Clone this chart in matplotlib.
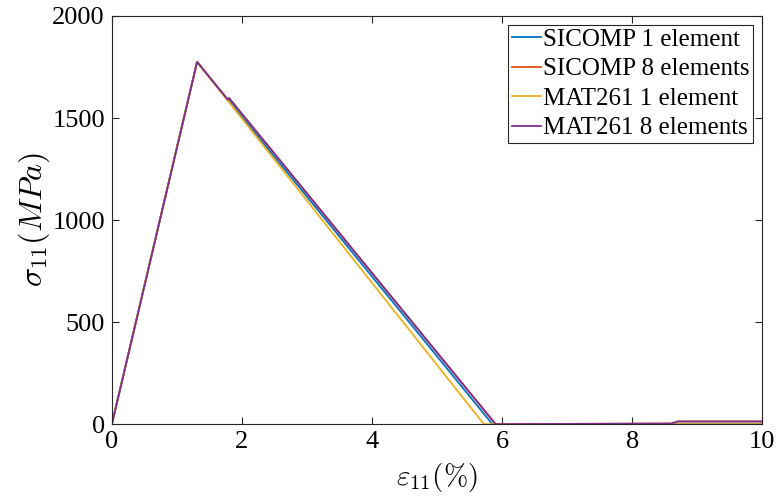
import numpy as np
import matplotlib
matplotlib.use('Agg')
import matplotlib.pyplot as plt

plt.rcParams['font.family'] = ['Liberation Serif', 'DejaVu Serif']
plt.rcParams['mathtext.fontset'] = 'cm'

# Curvas tensão x deformação
labels = ['SICOMP 1 element', 'SICOMP 8 elements', 'MAT261 1 element', 'MAT261 8 elements']
colors = ['#0072BD', '#D95319', '#EDB120', '#7E2F8E']

eps_sicomp1 = [0, 1.31, 5.85, 10]
sig_sicomp1 = [0, 1775, 0, 0]

eps_sicomp8 = [0, 1.31, 1.78, 1.80, 5.90, 8.60, 8.70, 10]
sig_sicomp8 = [0, 1775, 1590, 1598, 0, 3, 13, 13]

eps_mat1 = [0, 1.31, 5.72, 10]
sig_mat1 = [0, 1775, 0, 0]

eps_mat8 = [0, 1.31, 1.78, 1.80, 5.90, 8.60, 8.70, 10]
sig_mat8 = [0, 1775, 1590, 1598, 0, 3, 13, 13]

series = [(eps_sicomp1, sig_sicomp1), (eps_sicomp8, sig_sicomp8),
          (eps_mat1, sig_mat1), (eps_mat8, sig_mat8)]

fig = plt.figure(figsize=(7.77, 4.99), dpi=100)
ax = fig.add_axes([0.144, 0.150, 0.837, 0.818])

for (x, y), lab, c in zip(series, labels, colors):
    ax.plot(x, y, color=c, lw=1.3, label=lab)

ax.set_xlim(0, 10)
ax.set_ylim(0, 2000)
ax.set_xticks([0, 2, 4, 6, 8, 10])
ax.set_yticks([0, 500, 1000, 1500, 2000])
ax.tick_params(direction='in', top=True, right=True, labelsize=19, length=5,
               color='#262626', pad=5)
for s in ax.spines.values():
    s.set_color('#262626')
    s.set_linewidth(0.8)

ax.set_xlabel(r'$\varepsilon_{11}(\%)$', fontsize=21, labelpad=6)
ax.set_ylabel(r'$\sigma_{11}(MPa)$', fontsize=23, labelpad=0)

leg = ax.legend(loc='upper right', fontsize=18, handlelength=1.15, handletextpad=0.1,
                labelspacing=0.28, borderpad=0.15, fancybox=False, framealpha=1,
                borderaxespad=0.35)
leg.get_frame().set_edgecolor('#262626')
leg.get_frame().set_linewidth(0.8)

fig.savefig('out.png', dpi=100)
